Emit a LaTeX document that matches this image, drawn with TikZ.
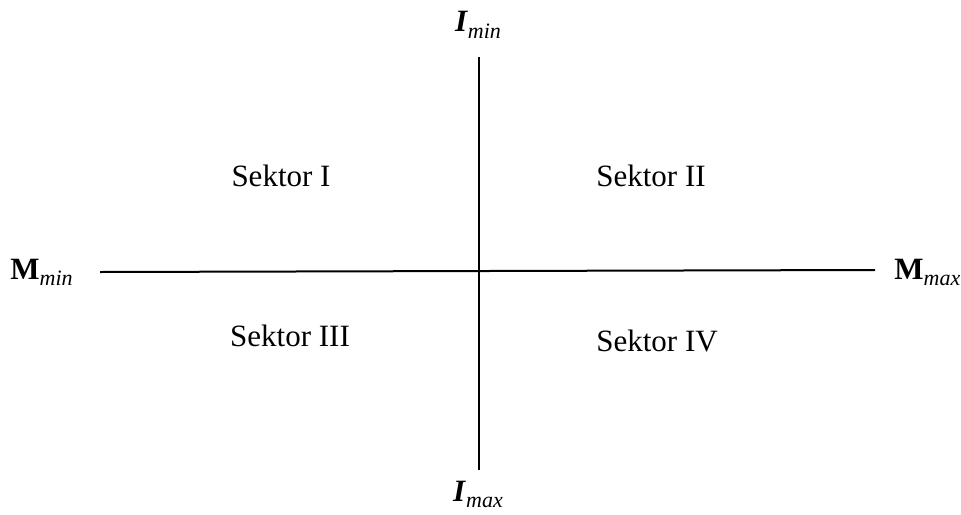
\documentclass[tikz,border=0pt]{standalone}
\usepackage{fontspec}
\setmainfont{Liberation Serif}
\tikzset{
  axis/.style={line width=1pt, black},
  lbl/.style={anchor=base, inner sep=0pt, font=\fontsize{15.5}{18}\selectfont},
}
\newcommand{\mysub}[1]{\raisebox{-0.22em}{\fontsize{11}{13}\selectfont\itshape #1}}
\begin{document}
\begin{tikzpicture}[x=0.5pt,y=-0.5pt]
\useasboundingbox (0,0) rectangle (961,514);
% axes
\coordinate (top) at (479,57);
\coordinate (bot) at (479,470);
\coordinate (lft) at (100,272);
\coordinate (rgt) at (875,270);
\draw[axis] (top) -- (bot);
\draw[axis] (lft) -- (rgt);
% sector labels
\node[lbl] (s1) at (281,186) {Sektor I};
\node[lbl] (s2) at (651,186) {Sektor II};
\node[lbl] (s3) at (290,346) {Sektor III};
\node[lbl] (s4) at (657,351) {Sektor IV};
% axis end labels
\node[lbl, anchor=base west] (mmin) at (10,279) {\textbf{M}\mysub{min}};
\node[lbl, anchor=base west] (mmax) at (894,279) {\textbf{M}\mysub{max}};
\node[lbl] (imin) at (478,32) {\textbf{\textit{I}}\mysub{min}};
\node[lbl] (imax) at (478,501) {\textbf{\textit{I}}\mysub{max}};
\end{tikzpicture}
\end{document}
